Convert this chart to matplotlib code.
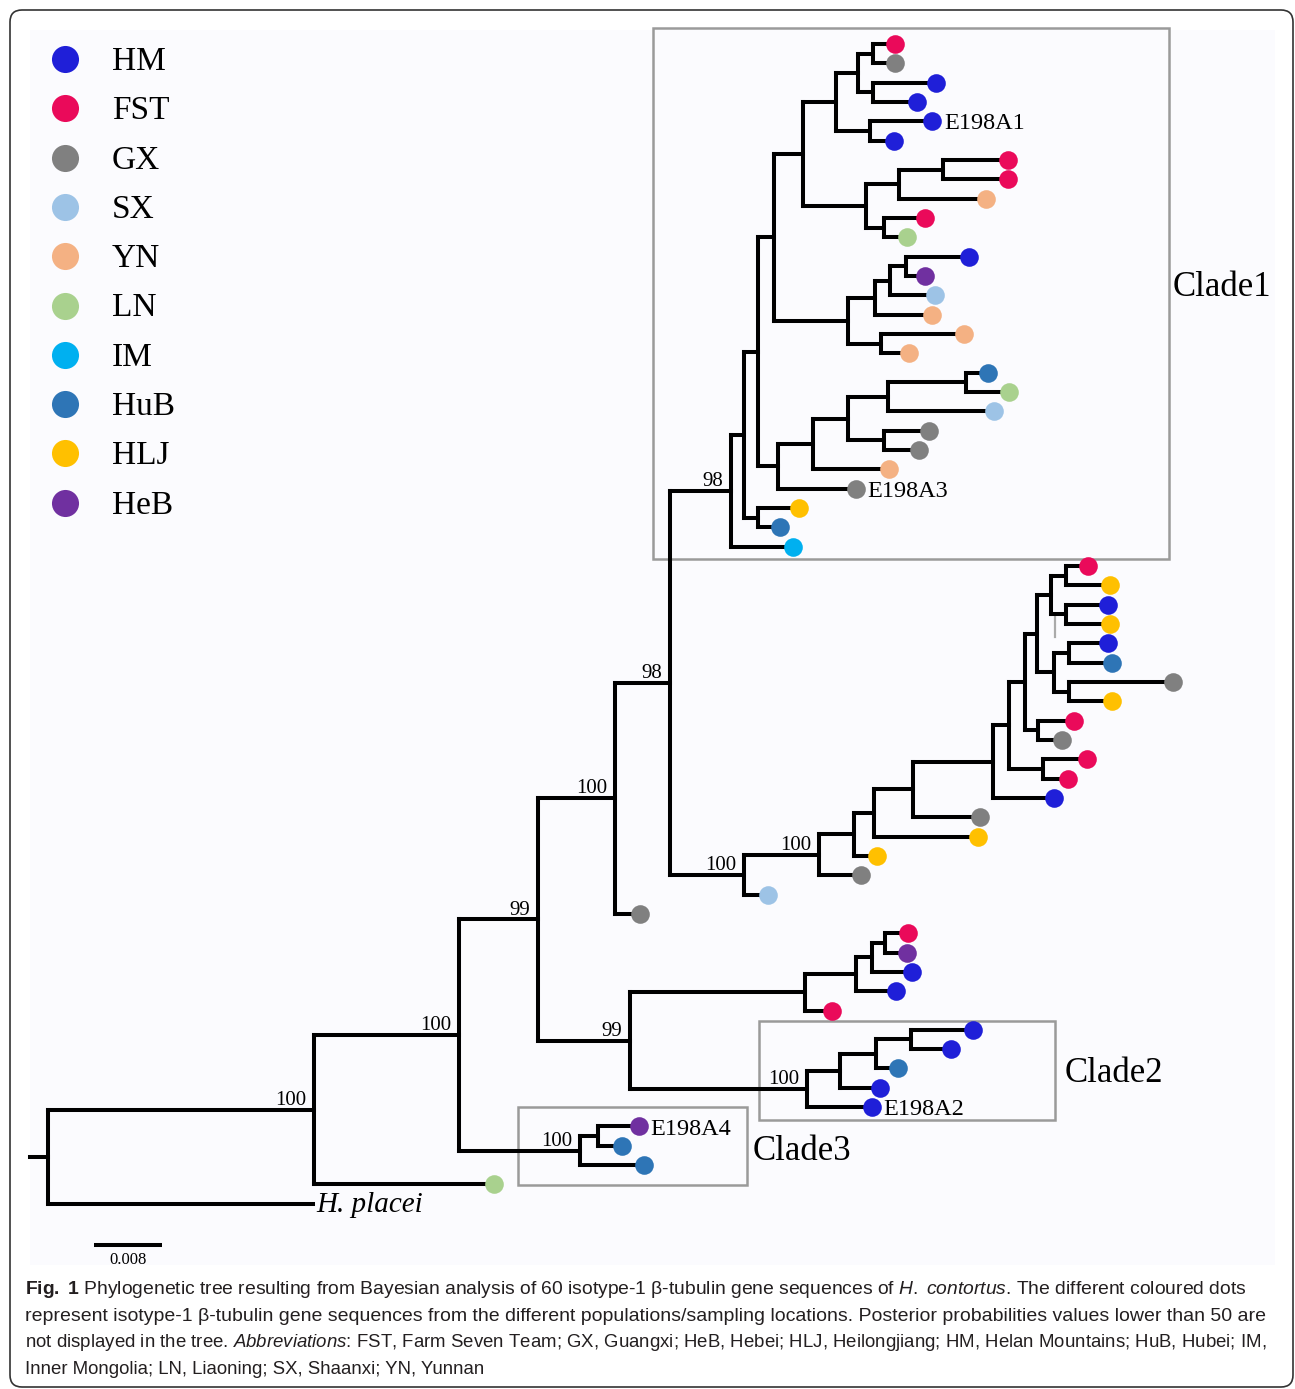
import matplotlib
matplotlib.use('Agg')
import matplotlib.pyplot as plt
from matplotlib.collections import LineCollection
from matplotlib.patches import Rectangle, FancyBboxPatch

# populations / sampling locations and their dot colours
POPS = ['HM', 'FST', 'GX', 'SX', 'YN', 'LN', 'IM', 'HuB', 'HLJ', 'HeB']
POP_COLORS = ['#1f1fd8', '#ea0a5a', '#808080', '#9dc3e6', '#f4b183',
              '#a9d18e', '#00b0f0', '#2e75b6', '#ffc000', '#7030a0']

# tree (newick, branch lengths in substitutions/site, supports as node labels)
# tip names are population codes, "@" adds the tip label
C1_F = ("(((FST:0.0025,GX:0.0025):0.0018,(HM:0.0074,HM:0.0051):0.0018):0.0026,"
        "(HM@E198A1:0.0073,HM:0.0028):0.0040):0.0039,"
        "(((FST:0.0076,FST:0.0076):0.0052,YN:0.0102):0.0039,(FST:0.0049,LN:0.0028):0.0021):0.0074")
C1_G = ("(((HM:0.0074,HeB:0.0022):0.0019,SX:0.0052):0.0018,YN:0.0067):0.0032,"
        "(YN:0.0098,YN:0.0033):0.0039")
C1_D = ("((((HuB:0.0026,LN:0.0051):0.0092,SX:0.0125):0.0047,(GX:0.0054,GX:0.0042):0.0042):0.0041,"
        "YN:0.0089):0.0041,GX@E198A3:0.0091")
C1_C = "HLJ:0.0048,HuB:0.0026"
CLADE1 = (f"((((({C1_F}):0.0034,({C1_G}):0.0087):0.0019,({C1_D}):0.0024):0.0016,"
          f"({C1_C}):0.0016):0.0016,IM:0.0074)98:0.0071")

MID_CORE = ("(((FST:0.0026,HLJ:0.0051):0.0018,(HM:0.0049,HLJ:0.0051):0.0018):0.0016,"
            "((HM:0.0046,HuB:0.0051):0.0018,(GX:0.0122,HLJ:0.0051):0.0018):0.0019):0.0015")
MIDDLE = (f"(((((((({MID_CORE},(FST:0.0042,GX:0.0028):0.0016):0.0018,"
          "(FST:0.0051,FST:0.0029):0.0040):0.0019,HM:0.0072):0.0094,GX:0.0079):0.0046,"
          "HLJ:0.0122):0.0024,HLJ:0.0027):0.0041,GX:0.0049)100:0.0088,SX:0.0028)100:0.0087")

C2_TOP = "((((FST:0.0027,HeB:0.0026):0.0016,HM:0.0048):0.0018,HM:0.0047):0.0060,FST:0.0031):0.0206"
C2_BOX = "((((HM:0.0073,HM:0.0047):0.0041,HuB:0.0026):0.0042,HM:0.0047):0.0039,HM@E198A2:0.0076)100:0.0208"
CLADE2 = f"({C2_TOP},{C2_BOX})99:0.0109"

CLADE3 = "((HeB@E198A4:0.0048,HuB:0.0028):0.0021,HuB:0.0075)100:0.0142"

TREE_NWK = (f"(((((({CLADE1},{MIDDLE})98:0.0065,GX:0.0029)100:0.0091,{CLADE2})99:0.0092,"
            f"{CLADE3})100:0.0171,LN:0.0212)100:0.0313,H. placei:0.0312);")
ROOT_STEM = 0.0021
SCALE_LEN = 0.008

CAPTION = [
    r"$\mathbf{Fig.\ 1}$ Phylogenetic tree resulting from Bayesian analysis of 60 isotype-1 β-tubulin gene sequences of $\mathit{H.\ contortus}$. The different coloured dots",
    "represent isotype-1 β-tubulin gene sequences from the different populations/sampling locations. Posterior probabilities values lower than 50 are",
    r"not displayed in the tree. $\mathit{Abbreviations}$: FST, Farm Seven Team; GX, Guangxi; HeB, Hebei; HLJ, Heilongjiang; HM, Helan Mountains; HuB, Hubei; IM,",
    "Inner Mongolia; LN, Liaoning; SX, Shaanxi; YN, Yunnan",
]
CAPTION_WIDTHS = [1223, 1238, 1245, 462]  # px width of each line in the reference

# layout (image pixels)
W, H = 1295, 1389
ROOT_PX = 48
PX_PER_SUB = 8500
TIP0_PX = 44
TIP_STEP_PX = 19.33
SERIF = 'Liberation Serif'
CAP_FONT = 'Liberation Sans'


def parse_newick(s):
    pos = 0

    def node():
        nonlocal pos
        n = {'children': [], 'name': '', 'length': 0.0}
        if s[pos] == '(':
            pos += 1
            n['children'].append(node())
            while s[pos] == ',':
                pos += 1
                n['children'].append(node())
            pos += 1  # ')'
        start = pos
        while s[pos] not in ',():;':
            pos += 1
        n['name'] = s[start:pos]
        if s[pos] == ':':
            pos += 1
            start = pos
            while s[pos] not in ',();':
                pos += 1
            n['length'] = float(s[start:pos])
        return n

    return node()


tree = parse_newick(TREE_NWK)
leaves, internal = [], []


def place(n, x):
    n['x'] = x
    if not n['children']:
        n['y'] = len(leaves)
        leaves.append(n)
    else:
        for c in n['children']:
            place(c, x + c['length'])
        n['y'] = (n['children'][0]['y'] + n['children'][-1]['y']) / 2
        internal.append(n)


place(tree, 0.0)

plt.rcParams['mathtext.fontset'] = 'custom'
plt.rcParams['mathtext.rm'] = CAP_FONT
plt.rcParams['mathtext.it'] = CAP_FONT + ':italic'
plt.rcParams['mathtext.bf'] = CAP_FONT + ':bold'

fig = plt.figure(figsize=(W / 100, H / 100), dpi=100)
ov = fig.add_axes([0, 0, 1, 1])
ov.set_xlim(0, W)
ov.set_ylim(H, 0)
ov.axis('off')

ax = fig.add_axes([0, 0, 1, 1])
ax.axis('off')
ax.set_xlim(-ROOT_PX / PX_PER_SUB, (W - ROOT_PX) / PX_PER_SUB)
ax.set_ylim((H - TIP0_PX) / TIP_STEP_PX, -TIP0_PX / TIP_STEP_PX)

# frame and faint panel background
ov.add_patch(Rectangle((30, 30), 1245, 1235, facecolor='#fbfbfe', edgecolor='none'))
ov.add_patch(FancyBboxPatch((10, 10), 1283, 1377, boxstyle='round,pad=0,rounding_size=12',
                            facecolor='none', edgecolor='#333333', linewidth=1.2))

# clade boxes
for (x0, y0, x1, y1) in [(653, 28, 1169, 559), (759, 1021, 1055, 1120), (518, 1107, 747, 1185)]:
    ov.add_patch(Rectangle((x0, y0), x1 - x0, y1 - y0, facecolor='none',
                           edgecolor='#9a9a9a', linewidth=1.8))
ov.plot([1055, 1055], [615, 637], color='#aaaaaa', lw=1.6)
for label, x, y in [('Clade1', 1173, 296), ('Clade2', 1065, 1082), ('Clade3', 753, 1160)]:
    ov.text(x, y, label, fontsize=25, family=SERIF, va='baseline', ha='left')

# legend
for k, (pop, col) in enumerate(zip(POPS, POP_COLORS)):
    y = 59 + 49.3 * k
    ov.scatter(65, y, s=380, color=col, linewidths=0)
    ov.text(112, y + 11, pop, fontsize=24, family=SERIF, va='baseline')

# branches
segs = [[(-ROOT_STEM, tree['y']), (0, tree['y'])]]
for n in internal:
    segs.append([(n['x'], n['children'][0]['y']), (n['x'], n['children'][-1]['y'])])
    for c in n['children']:
        segs.append([(n['x'], c['y']), (c['x'], c['y'])])
ax.add_collection(LineCollection(segs, colors='black', linewidths=2.9, capstyle='projecting', zorder=2))

# tips
color_of = dict(zip(POPS, POP_COLORS))
for lf in leaves:
    pop, _, tag = lf['name'].partition('@')
    if pop in color_of:
        ax.scatter(lf['x'], lf['y'], s=180, color=color_of[pop], linewidths=0, zorder=3)
        if tag:
            ax.annotate(tag, (lf['x'], lf['y']), xytext=(8.5, -5.8), textcoords='offset points',
                        fontsize=17.5, family=SERIF, va='baseline', ha='left')
    else:
        ax.annotate(pop, (lf['x'], lf['y']), xytext=(2, -6), textcoords='offset points',
                    fontsize=21, family=SERIF, style='italic', va='baseline', ha='left')

# posterior support
for n in internal:
    if n['name']:
        ax.annotate(n['name'], (n['x'], n['y']), xytext=(-5.5, 3.5), textcoords='offset points',
                    fontsize=15, family=SERIF, va='baseline', ha='right')

# scale bar
sx = (94 - ROOT_PX) / PX_PER_SUB
sy = (1245 - TIP0_PX) / TIP_STEP_PX
ax.plot([sx, sx + SCALE_LEN], [sy, sy], color='black', lw=2.9, solid_capstyle='butt')
ax.annotate(f'{SCALE_LEN:g}', (sx + SCALE_LEN / 2, sy), xytext=(0, -11), textcoords='offset points',
            fontsize=12, family=SERIF, ha='center', va='center')

# caption, each line sized to its width in the reference
caps = []
for i, line in enumerate(CAPTION):
    caps.append(ov.text(25, 1294 + 26.7 * i, line, fontsize=15, family=CAP_FONT,
                        color='#231f20', va='baseline', ha='left'))
fig.canvas.draw()
r = fig.canvas.get_renderer()
for t, target in zip(caps, CAPTION_WIDTHS):
    t.set_fontsize(15 * target / t.get_window_extent(r).width)

fig.savefig('out.png', dpi=100)
